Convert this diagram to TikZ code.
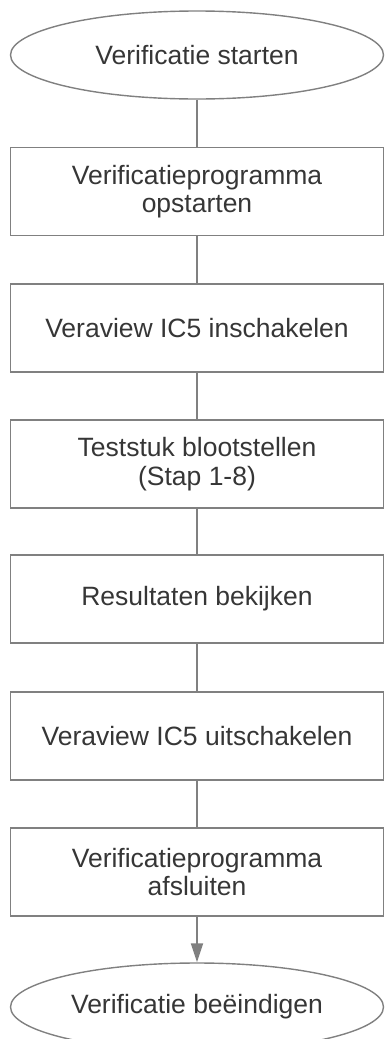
\documentclass[tikz,border=0pt]{standalone}
\usepackage{fontspec}
\setmainfont{Liberation Sans}
\usetikzlibrary{shapes.geometric,arrows.meta}
\definecolor{edge}{HTML}{808080}
\definecolor{ink}{HTML}{363636}
\begin{document}
\begin{tikzpicture}[x=1pt,y=1pt,
  every node/.style={font=\fontsize{26.5}{28.5}\selectfont, text=ink, align=center},
  stepbox/.style={draw=edge, line width=1.4pt, rectangle, minimum width=373pt, minimum height=88pt, inner sep=0pt},
  terminal/.style={draw=edge, line width=1.4pt, ellipse, minimum width=373pt, minimum height=88pt, inner sep=0pt},
  link/.style={draw=edge, line width=2pt},
  linkarrow/.style={link, -{Triangle[length=19pt,width=12pt]}}]
\useasboundingbox (0,0) rectangle (385,-1039);
\node[terminal] (start) at (197,-55) {Verificatie starten};
\node[stepbox] (b1) at (197,-191.5) {Verificatieprogramma\\opstarten};
\node[stepbox] (b2) at (197,-328) {Veraview IC5 inschakelen};
\node[stepbox] (b3) at (197,-464) {Teststuk blootstellen\\(Stap 1-8)};
\node[stepbox] (b4) at (197,-599) {Resultaten bekijken};
\node[stepbox] (b5) at (197,-736) {Veraview IC5 uitschakelen};
\node[stepbox] (b6) at (197,-872) {Verificatieprogramma\\afsluiten};
\node[terminal] (stop) at (197,-1007) {Verificatie beëindigen};
\draw[link] (start) -- (b1);
\draw[link] (b1) -- (b2);
\draw[link] (b2) -- (b3);
\draw[link] (b3) -- (b4);
\draw[link] (b4) -- (b5);
\draw[link] (b5) -- (b6);
\draw[linkarrow] (b6) -- (stop);
\end{tikzpicture}
\end{document}
